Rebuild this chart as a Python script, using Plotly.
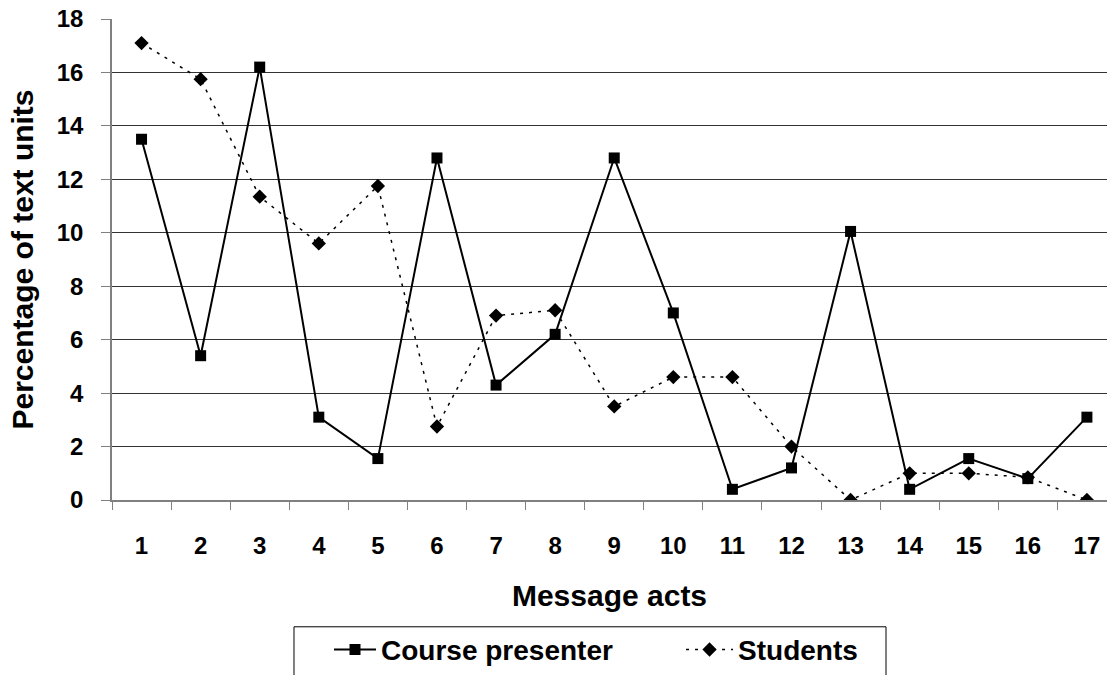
import plotly.graph_objects as go

categories = [str(i) for i in range(1, 18)]
course_presenter = [13.5, 5.4, 16.2, 3.1, 1.55, 12.8, 4.3, 6.2, 12.8, 7.0, 0.4, 1.2, 10.05, 0.4, 1.55, 0.8, 3.1]
students = [17.1, 15.75, 11.35, 9.6, 11.75, 2.75, 6.9, 7.1, 3.5, 4.6, 4.6, 2.0, 0.0, 1.0, 1.0, 0.85, 0.0]
y_ticks = list(range(0, 19, 2))

FONT = "Liberation Sans, Arial, sans-serif"

fig = go.Figure()
fig.add_trace(go.Scatter(
    x=categories, y=course_presenter, name="Course presenter",
    mode="lines+markers",
    line=dict(color="black", width=2),
    marker=dict(symbol="square", size=11, color="black"),
    legend="legend",
))
fig.add_trace(go.Scatter(
    x=categories, y=students, name="Students",
    mode="lines+markers",
    line=dict(color="black", width=1.5, dash="3px,6px"),
    marker=dict(symbol="diamond", size=11, color="black"),
    legend="legend2",
))

legend_font = dict(family=FONT, size=28, color="black", weight="bold")

fig.update_layout(
    width=1107, height=675,
    margin=dict(l=112, r=0, t=19, b=169),
    paper_bgcolor="white", plot_bgcolor="white",
    font=dict(family=FONT, color="black", size=24, weight="bold"),
    showlegend=True,
    legend=dict(
        orientation="h", x=0.2181, xanchor="left", y=-0.2595, yanchor="top",
        bgcolor="rgba(0,0,0,0)", borderwidth=0, font=legend_font, itemwidth=42,
    ),
    legend2=dict(
        orientation="h", x=0.5719, xanchor="left", y=-0.2595, yanchor="top",
        bgcolor="rgba(0,0,0,0)", borderwidth=0, font=legend_font, itemwidth=47,
    ),
    shapes=[dict(
        type="rect", xref="paper", yref="paper",
        x0=0.1829, x1=0.7779, y0=-0.2636, y1=-0.40,
        line=dict(color="black", width=1), fillcolor="rgba(0,0,0,0)", layer="below",
    )],
    xaxis=dict(
        type="category",
        range=[-0.5, 16.34],
        tickson="boundaries",
        ticks="outside", ticklen=8, tickcolor="#808080", tickwidth=1,
        showline=True, linecolor="#808080", linewidth=1.5,
        showgrid=False,
        tickfont=dict(family=FONT, size=24, weight="bold"),
        ticklabelstandoff=23,
        title=dict(text="Message acts", font=dict(family=FONT, size=30, weight="bold"), standoff=27),
    ),
    yaxis=dict(
        range=[0, 18],
        tickvals=y_ticks,
        ticks="outside", ticklen=9, tickcolor="#808080", tickwidth=1,
        showline=True, linecolor="#808080", linewidth=1.5,
        showgrid=True, gridcolor="#333333", gridwidth=1,
        zeroline=False,
        tickfont=dict(family=FONT, size=24, weight="bold"),
        ticklabelstandoff=13,
        title=dict(text="Percentage of text units", font=dict(family=FONT, size=30, weight="bold"), standoff=14),
    ),
)

fig.write_html(
    "out.html",
    config={"displayModeBar": False},
    post_script="document.body.style.margin='0';document.body.style.overflow='hidden';",
)
